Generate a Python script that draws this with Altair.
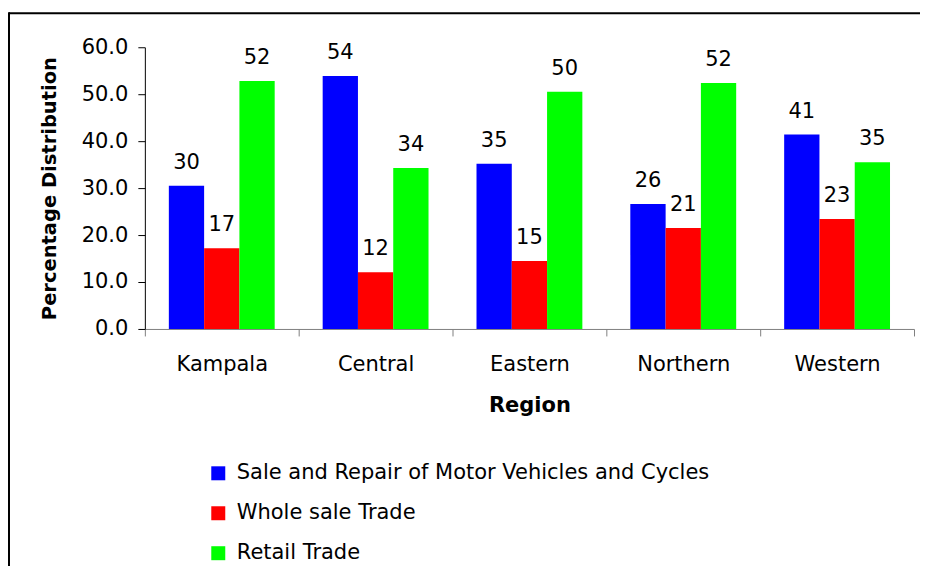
import altair as alt
import pandas as pd

regions = ["Kampala", "Central", "Eastern", "Northern", "Western"]
series = ["Sale and Repair of Motor Vehicles and Cycles", "Whole sale Trade", "Retail Trade"]
colors = ["#0000FF", "#FF0000", "#00FF00"]

sale_values = [30.5, 53.9, 35.2, 26.6, 41.4]
whole_values = [17.2, 12.1, 14.5, 21.5, 23.4]
retail_values = [52.8, 34.3, 50.5, 52.4, 35.5]

sale_labels = ["30", "54", "35", "26", "41"]
whole_labels = ["17", "12", "15", "21", "23"]
retail_labels = ["52", "34", "50", "52", "35"]

y_ticks = [0, 10, 20, 30, 40, 50, 60]

rows = []
for s, vals, labs in zip(series, [sale_values, whole_values, retail_values],
                         [sale_labels, whole_labels, retail_labels]):
    for r, v, l in zip(regions, vals, labs):
        rows.append({"region": r, "series": s, "value": v, "label": l})
df = pd.DataFrame(rows)

FONT = "DejaVu Sans"

x_enc = alt.X(
    "region:N", sort=regions,
    scale=alt.Scale(paddingInner=0, paddingOuter=0),
    axis=alt.Axis(
        title="Region", tickBand="extent", labelAngle=0,
        labelFont=FONT, labelFontSize=21, labelColor="black", labelPadding=18,
        titleFont=FONT, titleFontSize=21, titleFontWeight="bold", titleColor="black",
        titleY=77, titleBaseline="middle",
        domainColor="#808080", tickColor="#808080", tickSize=7, grid=False,
    ),
)
xoff_enc = alt.XOffset("series:N", sort=series,
                       scale=alt.Scale(paddingInner=0, paddingOuter=0.68))
y_enc = alt.Y(
    "value:Q",
    scale=alt.Scale(domain=[0, 60], nice=False),
    axis=alt.Axis(
        title="Percentage Distribution", values=y_ticks, format=".1f",
        labelFont=FONT, labelFontSize=21, labelColor="black", labelPadding=10,
        titleFont=FONT, titleFontSize=19.5, titleFontWeight="bold", titleColor="black",
        titleX=-95, titleY=141, titleAngle=-90, titleAlign="center", titleBaseline="middle",
        domainColor="black", tickColor="black", tickSize=7, grid=False,
    ),
)

bars = alt.Chart(df).mark_bar().encode(
    x=x_enc,
    xOffset=xoff_enc,
    y=y_enc,
    color=alt.Color(
        "series:N", sort=series,
        scale=alt.Scale(domain=series, range=colors),
        legend=alt.Legend(
            title=None, orient="none", legendX=63, legendY=416, direction="vertical",
            symbolType="square", symbolSize=196, symbolStrokeWidth=0, symbolOpacity=1,
            labelFont=FONT, labelFontSize=21, labelColor="black", labelOffset=8,
            labelLimit=0, rowPadding=18, padding=0,
        ),
    ),
)

text = alt.Chart(df).mark_text(
    font=FONT, fontSize=21, color="black", baseline="alphabetic", dy=-17
).encode(
    x=alt.X("region:N", sort=regions),
    xOffset=alt.XOffset("series:N", sort=series),
    y=alt.Y("value:Q"),
    text="label:N",
)

frame_df = pd.DataFrame({"k": [0]})
top_line = alt.Chart(frame_df).mark_rule(color="black", strokeWidth=2).encode(
    x=alt.value(-136), x2=alt.value(800), y=alt.value(-34)
)
left_line = alt.Chart(frame_df).mark_rule(color="black", strokeWidth=2).encode(
    x=alt.value(-136), y=alt.value(-35), y2=alt.value(530)
)

chart = alt.layer(bars, text, top_line, left_line).properties(
    width=770, height=282,
    background="white",
    autosize=alt.AutoSizeParams(type="none"),
    padding={"left": 137, "top": 39, "right": 6, "bottom": 237},
).configure_view(stroke="transparent", strokeWidth=0)

chart.save("out.html", embed_options={"renderer": "svg", "actions": False})
